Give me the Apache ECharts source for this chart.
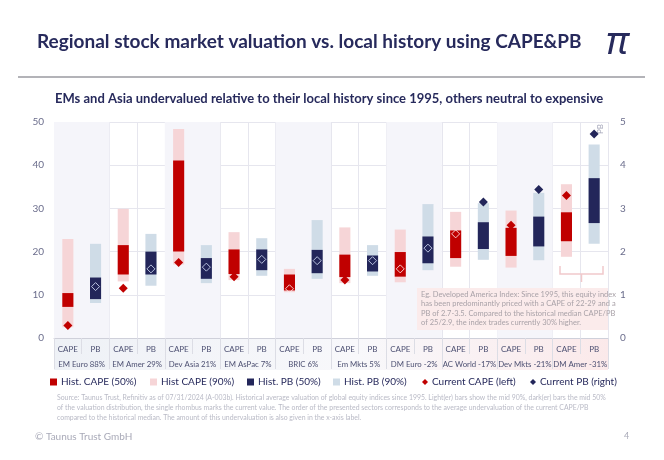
<!DOCTYPE html>
<html><head><meta charset="utf-8">
<script src="https://cdn.jsdelivr.net/npm/echarts@6/dist/echarts.min.js"></script>
<style>html,body{margin:0;padding:0;background:#fff}#c{width:664px;height:460px}</style>
</head><body><div id="c"></div>
<script>
const groups = ['EM Euro 88%','EM Amer 29%','Dev Asia 21%','EM AsPac 7%','BRIC 6%','Em Mkts 5%','DM Euro -2%','AC World -17%','Dev Mkts -21%','DM Amer -31%'];
const columnTypes = ['CAPE','PB'];
const cape90Low  = [2.5, 13.1, 17.0, 13.4, 10.6, 12.7, 12.9, 16.5, 16.3, 18.8];
const cape90High = [22.9, 29.9, 48.4, 24.5, 16.0, 25.6, 25.1, 29.2, 29.5, 35.6];
const cape50Low  = [7.2, 14.7, 20.0, 14.8, 11.0, 14.1, 14.2, 18.5, 19.0, 22.4];
const cape50High = [10.4, 21.5, 41.1, 20.5, 14.7, 19.3, 19.9, 24.9, 25.5, 29.1];
const capeNow    = [2.9, 11.5, 17.5, 14.2, 11.4, 13.4, 16.0, 24.1, 26.1, 33.0];
const pb90Low  = [0.81, 1.21, 1.27, 1.44, 1.37, 1.44, 1.57, 1.81, 1.80, 2.18];
const pb90High = [2.18, 2.41, 2.15, 2.31, 2.73, 2.15, 3.10, 3.12, 3.36, 4.48];
const pb50Low  = [0.90, 1.47, 1.37, 1.57, 1.50, 1.54, 1.73, 2.06, 2.12, 2.66];
const pb50High = [1.40, 2.00, 1.85, 2.05, 2.04, 1.91, 2.35, 2.68, 2.81, 3.70];
const pbNow    = [1.19, 1.60, 1.64, 1.82, 1.79, 1.79, 2.08, 3.15, 3.44, 4.72];
const leftTicks = [0,10,20,30,40,50];
const rightTicks = [0,1,2,3,4,5];
const legendNames = ['Hist. CAPE (50%)','Hist CAPE (90%)','Hist. PB (50%)','Hist. PB (90%)','Current CAPE (left)','Current PB (right)'];

const NAVY = '#272a5c', RED = '#c00000', PINK = '#f6d5d7', DARK = '#23265a', LBLUE = '#cfdce7';
const FONT = 'Lato';

const columns = [];
groups.forEach((g,i)=>{ columnTypes.forEach(t=>columns.push(g+'|'+t)); });

function rangeData(lo, hi, offset){ return lo.map((v,i)=>[2*i+offset, v, hi[i]]); }
function renderRange(params, api){
  const x = api.value(0);
  const a = api.coord([x, api.value(1)]);
  const b = api.coord([x, api.value(2)]);
  const bw = api.size([1,0])[0]*0.40;
  return {type:'rect', shape:{x:a[0]-bw/2, y:b[1], width:bw, height:a[1]-b[1]}, style:api.style()};
}
function renderBg(params, api){
  const x = api.value(0);
  const p = api.coord([x, 0]);
  const w = api.size([1,0])[0];
  const cs = params.coordSys;
  return {type:'rect', shape:{x:p[0]-w/2, y:cs.y, width:w*2, height:cs.height}, style:{fill:'#f5f5fa'}};
}
function currentData(now, lo, hi, offset, color, hollowColor){
  return now.map((v,i)=>{
    const inside = v>=lo[i] && v<=hi[i];
    return inside ? {value:[2*i+offset, v], symbolSize:8, itemStyle:{color:'rgba(0,0,0,0)', borderColor:hollowColor, borderWidth:1, opacity:1}}
                  : {value:[2*i+offset, v], symbolSize:9, itemStyle:{color:color, opacity:1}};
  });
}
const shadedGroups = groups.map((g,i)=>i).filter(i=>i%2===0).map(i=>[2*i, 0]);

const legendX = [50, 150, 247, 333, 422, 530];
const legends = legendNames.map((n,i)=>({
  left:legendX[i], top:377, padding:0, itemWidth: i<4?7:6, itemHeight: i<4?7:6, itemGap:4,
  icon: i<4?'rect':'diamond',
  textStyle:{fontSize:10, color:NAVY, fontFamily:FONT, padding:[0,0,0,-1]},
  data:[n]
}));

const chart = echarts.init(document.getElementById('c'), null, {renderer:'canvas'});
chart.setOption({
  animation:false,
  textStyle:{fontFamily:FONT},
  grid:{left:54, right:56, top:122, bottom:122, containLabel:false},
  xAxis:[
    {type:'category', data:columns, position:'bottom', boundaryGap:true,
     axisLine:{lineStyle:{color:'#cfd0da'}},
     axisTick:{show:true, length:16, interval:0, lineStyle:{color:'#dcdde5'}},
     axisLabel:{interval:0, margin:7, fontSize:8, color:'#4d5072', fontFamily:FONT, formatter:v=>v.split('|')[1]},
     splitLine:{show:true, interval:0, lineStyle:{color:'#e6e6ee'}}},
    {type:'category', data:groups, position:'bottom', boundaryGap:true,
     axisLine:{show:false},
     axisTick:{show:true, length:31, interval:0, lineStyle:{color:'#dcdde5'}},
     axisLabel:{interval:0, margin:22, fontSize:7.8, color:'#4d5072', fontFamily:FONT}}
  ],
  yAxis:[
    {type:'value', min:0, max:50, interval:10, position:'left',
     axisLine:{show:false}, axisTick:{show:false},
     axisLabel:{margin:10, fontSize:10, color:'#6b6d8c', fontFamily:FONT},
     splitLine:{lineStyle:{color:'#e6e6ee'}}},
    {type:'value', min:0, max:5, interval:1, position:'right',
     axisLine:{show:false}, axisTick:{show:false},
     axisLabel:{margin:12, fontSize:10, color:'#6b6d8c', fontFamily:FONT},
     splitLine:{show:false}}
  ],
  legend:legends,
  series:[
    {type:'custom', name:'bg', silent:true, z:0, renderItem:renderBg, data:shadedGroups, encode:{x:0,y:1}},
    {type:'custom', name:'Hist CAPE (90%)', yAxisIndex:0, itemStyle:{color:PINK}, renderItem:renderRange, data:rangeData(cape90Low,cape90High,0), encode:{x:0,y:[1,2]}, z:2},
    {type:'custom', name:'Hist. CAPE (50%)', yAxisIndex:0, itemStyle:{color:RED}, renderItem:renderRange, data:rangeData(cape50Low,cape50High,0), encode:{x:0,y:[1,2]}, z:3},
    {type:'custom', name:'Hist. PB (90%)', yAxisIndex:1, itemStyle:{color:LBLUE}, renderItem:renderRange, data:rangeData(pb90Low,pb90High,1), encode:{x:0,y:[1,2]}, z:2},
    {type:'custom', name:'Hist. PB (50%)', yAxisIndex:1, itemStyle:{color:DARK}, renderItem:renderRange, data:rangeData(pb50Low,pb50High,1), encode:{x:0,y:[1,2]}, z:3},
    {type:'scatter', name:'Current CAPE (left)', yAxisIndex:0, symbol:'diamond', itemStyle:{color:RED, opacity:1}, z:5,
     data:currentData(capeNow,cape50Low,cape50High,0,RED,'rgba(255,235,235,0.85)')},
    {type:'scatter', name:'Current PB (right)', yAxisIndex:1, symbol:'diamond', itemStyle:{color:DARK, opacity:1}, z:5,
     data:currentData(pbNow,pb50Low,pb50High,1,DARK,'rgba(200,210,235,0.9)')}
  ],
  graphic:[
    {type:'text', left:37, top:32, style:{text:'Regional stock market valuation vs. local history using CAPE&PB', font:'bold 19px '+FONT, fill:NAVY}},
    {type:'text', left:606, top:24, style:{text:'π', font:'italic 38px "Noto Sans"', fill:NAVY}},
    {type:'rect', left:18, top:76, shape:{width:627, height:2}, style:{fill:'#b3b3b8'}},
    {type:'text', left:55, top:92, style:{text:'EMs and Asia undervalued relative to their local history since 1995, others neutral to expensive', font:'bold 13px '+FONT, fill:NAVY}},
    {type:'rect', left:54, top:338, z:-1, shape:{width:554, height:32},
     style:{fill:new echarts.graphic.LinearGradient(0,0,1,0,[{offset:0,color:'#eef1f6'},{offset:0.55,color:'#f8f8fb'},{offset:1,color:'#fbe9ea'}])}},
    {type:'text', left:62, top:128, rotation:Math.PI/2, style:{text:'CAPE', font:'8px '+FONT, fill:'#a5a7ba'}},
    {type:'text', left:596, top:124, rotation:Math.PI/2, style:{text:'PB', font:'8px '+FONT, fill:'#a5a7ba'}},
    {type:'rect', left:417, top:288, z:10, shape:{width:191, height:42}, style:{fill:'rgba(251,234,234,0.95)'}},
    {type:'text', left:421, top:290, z:11, style:{text:'Eg. Developed America Index: Since 1995, this equity index\nhas been predominantly priced with a CAPE of 22-29 and a\nPB of 2.7-3.5. Compared to the historical median CAPE/PB\nof 25/2.9, the index trades currently 30% higher.', font:'7.5px '+FONT, fill:'#a9a2a8', lineHeight:9.3}},
    {type:'polyline', z:10, shape:{points:[[560,266],[560,274],[603,274],[603,266]]}, style:{stroke:'#f1c9cb', lineWidth:1.5, fill:null}},
    {type:'line', z:10, shape:{x1:581.5, y1:274, x2:581.5, y2:282}, style:{stroke:'#f1c9cb', lineWidth:1.5}},
    {type:'text', left:57, top:393, style:{text:'Source: Taunus Trust, Refinitiv as of 07/31/2024 (A-003b). Historical average valuation of global equity indices since 1995. Light(er) bars show the mid 90%, dark(er) bars the mid 50%\nof the valuation distribution, the single rhombus marks the current value. The order of the presented sectors corresponds to the average undervaluation of the current CAPE/PB\ncompared to the historical median. The amount of this undervaluation is also given in the x-axis label.', font:'6.9px '+FONT, fill:'#b9bac6', lineHeight:10}},
    {type:'text', left:35, top:432, style:{text:'© Taunus Trust GmbH', font:'10px '+FONT, fill:'#a9aab8'}},
    {type:'text', left:624, top:432, style:{text:'4', font:'9px '+FONT, fill:'#a9aab8'}}
  ]
});
</script></body></html>
